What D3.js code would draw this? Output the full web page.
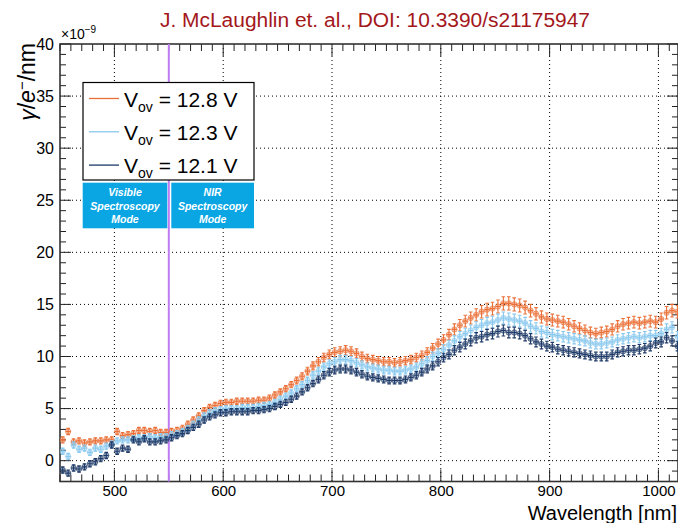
<!DOCTYPE html>
<html><head><meta charset="utf-8">
<script src="https://cdn.jsdelivr.net/npm/d3@7/dist/d3.min.js"></script>
<style>
body{margin:0;background:#fff;}
svg{display:block;font-family:"Liberation Sans",Arial,Helvetica,sans-serif;}
</style></head>
<body>
<svg id="c" width="678" height="523"></svg>
<script>
// ---------------- DATA ----------------
const wavelengths = [452.5,457.5,462.5,467.5,472.5,477.5,482.5,487.5,492.5,497.5,
502.5,507.5,512.5,517.5,522.5,527.5,532.5,537.5,542.5,547.5,
552.5,557.5,562.5,567.5,572.5,577.5,582.5,587.5,592.5,597.5,
602.5,607.5,612.5,617.5,622.5,627.5,632.5,637.5,642.5,647.5,
652.5,657.5,662.5,667.5,672.5,677.5,682.5,687.5,692.5,697.5,
702.5,707.5,712.5,717.5,722.5,727.5,732.5,737.5,742.5,747.5,
752.5,757.5,762.5,767.5,772.5,777.5,782.5,787.5,792.5,797.5,
802.5,807.5,812.5,817.5,822.5,827.5,832.5,837.5,842.5,847.5,
852.5,857.5,862.5,867.5,872.5,877.5,882.5,887.5,892.5,897.5,
902.5,907.5,912.5,917.5,922.5,927.5,932.5,937.5,942.5,947.5,
952.5,957.5,962.5,967.5,972.5,977.5,982.5,987.5,992.5,997.5,
1002.5,1007.5,1012.5,1017.5];

const v128 = [2.0,2.8,1.8,1.9,1.7,1.8,1.9,1.9,2.0,2.0,
2.8,2.4,2.5,2.6,2.9,2.9,2.8,2.9,2.7,2.7,
2.8,2.9,3.1,3.5,3.9,4.3,4.8,5.1,5.3,5.5,
5.6,5.6,5.7,5.7,5.7,5.7,5.8,5.8,6.0,6.3,
6.6,6.9,7.3,7.7,8.1,8.6,9.1,9.5,9.9,10.2,
10.4,10.5,10.6,10.5,10.3,10.0,9.8,9.7,9.6,9.5,
9.5,9.4,9.5,9.6,9.7,9.9,10.1,10.4,10.8,11.2,
11.6,12.1,12.6,13.0,13.4,13.7,14.0,14.3,14.5,14.6,
14.8,15.1,15.1,15.0,14.9,14.7,14.4,14.1,13.8,13.6,
13.5,13.4,13.3,13.1,12.9,12.7,12.5,12.3,12.2,12.3,
12.4,12.6,12.9,13.1,13.2,13.3,13.2,13.3,13.4,13.3,
13.6,14.2,14.4,14.3];

const v123 = [0.9,0.4,1.5,1.1,1.2,0.8,1.2,1.1,1.4,1.6,
1.9,2.0,2.0,2.1,2.2,2.2,2.3,2.2,2.3,2.3,
2.5,2.6,2.8,3.1,3.5,3.9,4.3,4.6,4.8,4.9,
5.0,5.0,5.0,5.1,5.1,5.1,5.2,5.3,5.4,5.6,
5.9,6.2,6.5,6.9,7.3,7.7,8.2,8.6,9.0,9.3,
9.5,9.7,9.7,9.6,9.4,9.2,9.0,8.9,8.8,8.7,
8.7,8.6,8.6,8.7,8.8,9.0,9.3,9.6,10.0,10.3,
10.7,11.1,11.5,11.9,12.2,12.5,12.8,13.0,13.2,13.3,
13.5,13.7,13.6,13.5,13.4,13.2,12.9,12.7,12.4,12.3,
12.1,12.0,11.9,11.8,11.7,11.6,11.5,11.3,11.2,11.2,
11.3,11.4,11.6,11.7,11.8,11.9,11.8,11.9,12.0,12.0,
12.2,12.6,12.8,11.9];

const v121 = [-0.9,-1.2,-0.7,-0.8,-0.6,-0.3,-0.1,0.2,0.5,1.5,
0.9,1.2,1.1,2.0,1.8,2.1,1.8,1.8,1.9,2.0,
2.2,2.4,2.6,2.9,3.2,3.5,3.9,4.2,4.4,4.6,
4.6,4.7,4.7,4.7,4.7,4.8,4.8,4.9,5.0,5.2,
5.4,5.6,5.9,6.2,6.6,7.0,7.4,7.8,8.2,8.5,
8.7,8.8,8.8,8.7,8.5,8.3,8.1,8.0,7.9,7.8,
7.7,7.7,7.7,7.8,8.0,8.2,8.5,8.8,9.1,9.5,
9.9,10.2,10.6,10.9,11.2,11.5,11.8,11.9,12.1,12.2,
12.4,12.5,12.3,12.3,12.2,12.0,11.7,11.4,11.2,11.0,
10.9,10.7,10.6,10.5,10.4,10.3,10.2,10.1,10.0,10.0,
10.0,10.2,10.4,10.5,10.6,10.6,10.7,10.8,11.0,11.3,
11.4,11.8,11.5,11.0];

const seriesNames = ["12.8 V","12.3 V","12.1 V"];
const seriesColors = ["#ea7038","#88c8ee","#1e3a68"];
const seriesValues = [v128, v123, v121];
const relErr = 0.042, minErr = 0.3, binHalf = 2.3;

const xTicks = [500,600,700,800,900,1000];
const yTicks = [0,5,10,15,20,25,30,35,40];
const modeSplit = 550;
const titleText = "J. McLaughlin et. al., DOI: 10.3390/s21175947";

// ---------------- LAYOUT ----------------
const svg = d3.select("#c");
const L = 60, R = 678, T = 44, B = 481.5;
const x = d3.scaleLinear().domain([450, 1018]).range([L, R]);
const y = d3.scaleLinear().domain([-2, 40]).range([B, T]);

// gridlines
const grid = svg.append("g").attr("stroke","#000").attr("stroke-width",1)
  .attr("stroke-dasharray","1,3");
xTicks.forEach(t => grid.append("line").attr("x1",x(t)).attr("x2",x(t)).attr("y1",T).attr("y2",B));
yTicks.filter(t=>t>-2 && t<40).forEach(t => grid.append("line").attr("x1",L).attr("x2",R).attr("y1",y(t)).attr("y2",y(t)));

// axes (ticks inward)
const minorX = d3.range(450, 1020, 10);
const minorY = d3.range(-2, 41, 1);
const axG = svg.append("g").attr("stroke","#222").attr("stroke-width",1);
minorX.forEach(t=>{
  const maj = xTicks.includes(t);
  const len = maj ? 12 : 7;
  axG.append("line").attr("x1",x(t)).attr("x2",x(t)).attr("y1",B).attr("y2",B-len);
  axG.append("line").attr("x1",x(t)).attr("x2",x(t)).attr("y1",T).attr("y2",T+len);
});
minorY.forEach(t=>{
  const maj = yTicks.includes(t);
  const len = maj ? 11 : 6;
  axG.append("line").attr("x1",L).attr("x2",L+len).attr("y1",y(t)).attr("y2",y(t));
  axG.append("line").attr("x1",R).attr("x2",R-len).attr("y1",y(t)).attr("y2",y(t));
});
axG.append("rect").attr("x",L).attr("y",T).attr("width",R-L).attr("height",B-T)
  .attr("fill","none").attr("stroke","#333").attr("stroke-width",1.6);

// tick labels via d3 axes (lines hidden)
const xa = svg.append("g").attr("transform",`translate(0,${B})`)
  .call(d3.axisBottom(x).tickValues(xTicks).tickSize(0).tickPadding(4).tickFormat(d3.format("d")));
xa.select(".domain").remove();
xa.selectAll("text").attr("font-size",15).attr("fill","#000").attr("font-family","Liberation Sans, Arial, sans-serif");
const ya = svg.append("g").attr("transform",`translate(${L},0)`)
  .call(d3.axisLeft(y).tickValues(yTicks).tickSize(0).tickPadding(6).tickFormat(d3.format("d")));
ya.select(".domain").remove();
ya.selectAll("text").attr("font-size",16).attr("fill","#000").attr("font-family","Liberation Sans, Arial, sans-serif");

// ×10^-9
const ex = svg.append("text").attr("x",L+1).attr("y",T-5).attr("font-size",14).attr("fill","#000");
ex.append("tspan").text("×10");
ex.append("tspan").attr("dy",-6).attr("font-size",10).text("−9");

// mode split line
svg.append("line").attr("x1",x(modeSplit)).attr("x2",x(modeSplit)).attr("y1",T).attr("y2",B)
  .attr("stroke","#bf7cf2").attr("stroke-width",2);

// data
svg.append("clipPath").attr("id","pc").append("rect")
  .attr("x",L).attr("y",T).attr("width",R-L).attr("height",B-T);
const dataG = svg.append("g").attr("clip-path","url(#pc)");
seriesValues.forEach((vals,si)=>{
  const col = seriesColors[si];
  const g = dataG.append("g");
  vals.forEach((v,i)=>{
    const w = wavelengths[i];
    const e = Math.max(minErr, Math.abs(v)*relErr);
    const cx = x(w), cy = y(v);
    g.append("circle").attr("cx",cx).attr("cy",cy).attr("r",2.7)
      .attr("fill",col).attr("fill-opacity",0.4).attr("stroke",col).attr("stroke-opacity",0.6).attr("stroke-width",1);
    g.append("line").attr("x1",x(w-binHalf)).attr("x2",x(w+binHalf)).attr("y1",cy).attr("y2",cy)
      .attr("stroke",col).attr("stroke-width",1.1);
    g.append("line").attr("x1",cx).attr("x2",cx).attr("y1",y(v-e)).attr("y2",y(v+e))
      .attr("stroke",col).attr("stroke-width",1.1);
    [v-e, v+e].forEach(ev=>g.append("line").attr("x1",cx-1.8).attr("x2",cx+1.8)
      .attr("y1",y(ev)).attr("y2",y(ev)).attr("stroke",col).attr("stroke-width",1.1));
  });
});

// legend
svg.append("rect").attr("x",83).attr("y",82.5).attr("width",171).attr("height",97.5)
  .attr("fill","#fff").attr("stroke","#000").attr("stroke-width",1.2);
seriesNames.forEach((n,i)=>{
  const ly = 98.5 + i*33.3;
  svg.append("line").attr("x1",89).attr("x2",119).attr("y1",ly).attr("y2",ly)
    .attr("stroke",seriesColors[i]).attr("stroke-width",1.3);
  const t = svg.append("text").attr("x",124).attr("y",ly+8).attr("font-size",21).attr("fill","#000");
  t.append("tspan").text("V");
  t.append("tspan").attr("dy",5).attr("font-size",14).text("ov");
  t.append("tspan").attr("dy",-5).text(" = " + n);
});

// mode boxes
const modes = [{x0:82.7,x1:167.3,lines:["Visible","Spectroscopy","Mode"]},
               {x0:171.3,x1:254,lines:["NIR","Spectroscopy","Mode"]}];
modes.forEach(m=>{
  svg.append("rect").attr("x",m.x0).attr("y",182.7).attr("width",m.x1-m.x0).attr("height",45.6)
    .attr("fill","#0aa6e4");
  m.lines.forEach((s,j)=>svg.append("text").attr("x",(m.x0+m.x1)/2).attr("y",196+j*13.5)
    .attr("text-anchor","middle").attr("font-size",10.5).attr("font-weight","bold")
    .attr("font-style","italic").attr("fill","#fff").text(s));
});

// axis titles
svg.append("text").attr("x",677).attr("y",519.5).attr("text-anchor","end")
  .attr("font-size",20).attr("fill","#000").text("Wavelength [nm]");
const yt = svg.append("text").attr("transform","translate(35,43) rotate(-90)")
  .attr("text-anchor","end").attr("font-size",23).attr("fill","#000");
yt.append("tspan").attr("font-style","italic").text("γ");
yt.append("tspan").text("/");
yt.append("tspan").attr("font-style","italic").text("e");
yt.append("tspan").attr("dy",-8).attr("font-size",15).text("−");
yt.append("tspan").attr("dy",8).text("/nm");

// title
svg.append("text").attr("x",375).attr("y",27).attr("text-anchor","middle")
  .attr("font-size",19.5).attr("fill","#a3171b").attr("textLength",430).attr("lengthAdjust","spacingAndGlyphs")
  .text(titleText);
</script>
</body></html>
